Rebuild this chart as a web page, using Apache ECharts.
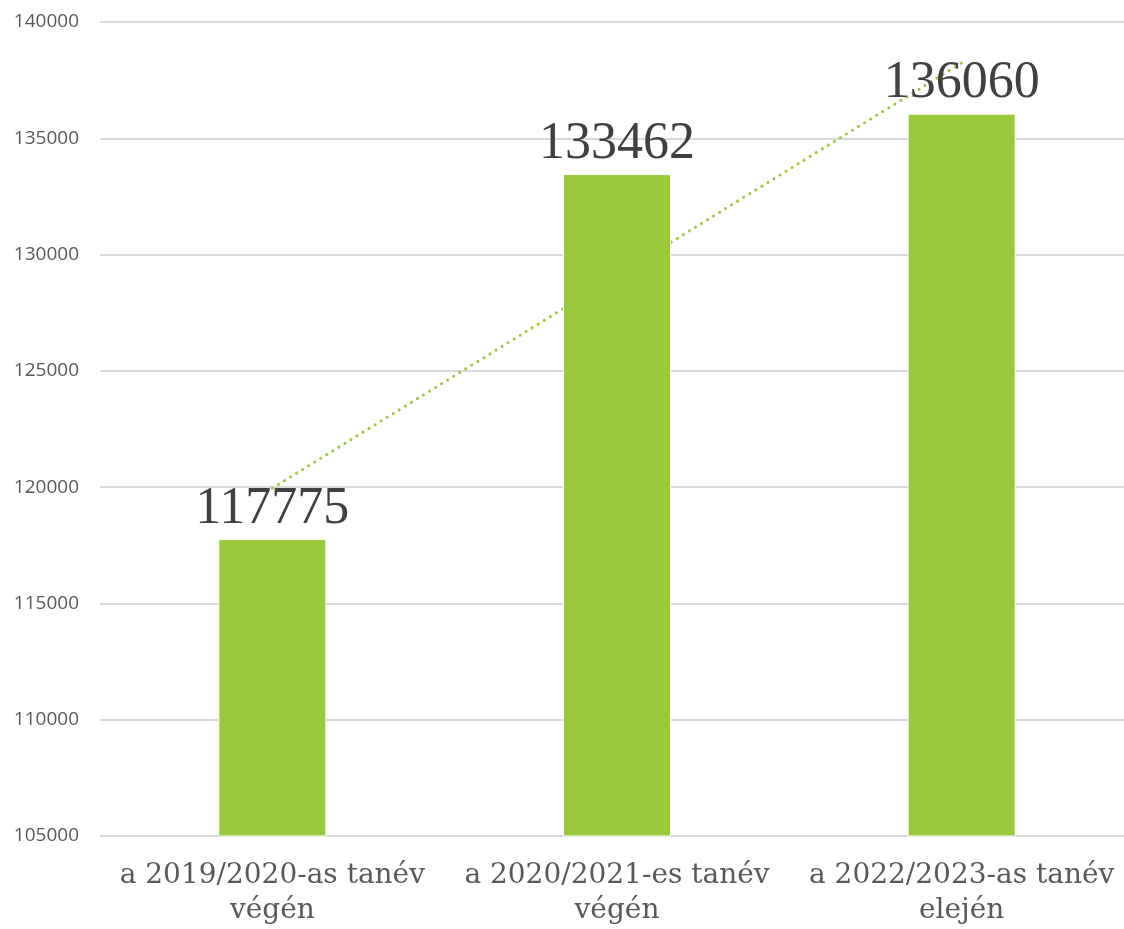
<!DOCTYPE html>
<html>
<head>
<meta charset="utf-8">
<script src="https://cdn.jsdelivr.net/npm/echarts@6/dist/echarts.min.js"></script>
<style>
html,body{margin:0;padding:0;background:#fff;}
#chart{width:1124px;height:929px;}
</style>
</head>
<body>
<div id="chart"></div>
<script>
const categories = ['a 2019/2020-as tanév\nvégén', 'a 2020/2021-es tanév\nvégén', 'a 2022/2023-as tanév\nelején'];
const values = [117775, 133462, 136060];
const trendValues = [119957, 129099, 138242];
const yTicks = { min: 105000, max: 140000, interval: 5000 };

const chart = echarts.init(document.getElementById('chart'));
chart.setOption({
  animation: false,
  grid: { left: 100, width: 1034, top: 22, bottom: 93, containLabel: false, outerBoundsMode: 'none' },
  xAxis: {
    type: 'category',
    data: categories,
    axisLine: { show: false },
    axisTick: { show: false },
    axisLabel: {
      interval: 0,
      hideOverlap: false,
      margin: 22,
      fontFamily: 'DejaVu Serif, Liberation Serif, serif',
      fontSize: 28,
      lineHeight: 35,
      color: '#595959'
    }
  },
  yAxis: {
    type: 'value',
    min: yTicks.min,
    max: yTicks.max,
    interval: yTicks.interval,
    axisLine: { show: false },
    axisTick: { show: false },
    splitLine: { lineStyle: { color: '#d9d9d9', width: 2 } },
    axisLabel: {
      margin: 21,
      fontFamily: 'Open Sans, Liberation Sans, sans-serif',
      fontSize: 19,
      color: '#595959',
      formatter: v => String(v)
    }
  },
  series: [
    {
      type: 'line',
      data: trendValues,
      z: 1,
      symbol: 'none',
      silent: true,
      lineStyle: { color: '#9ACA3C', width: 3, type: [0.1, 7], cap: 'round' }
    },
    {
      type: 'bar',
      data: values,
      z: 2,
      barWidth: 108,
      itemStyle: { color: '#9ACA3C', borderColor: '#ffffff', borderWidth: 1 },
      label: {
        show: true,
        position: 'top',
        distance: 4,
        fontFamily: 'Liberation Serif, DejaVu Serif, serif',
        fontSize: 52,
        color: '#404040'
      }
    }
  ]
});
</script>
</body>
</html>
